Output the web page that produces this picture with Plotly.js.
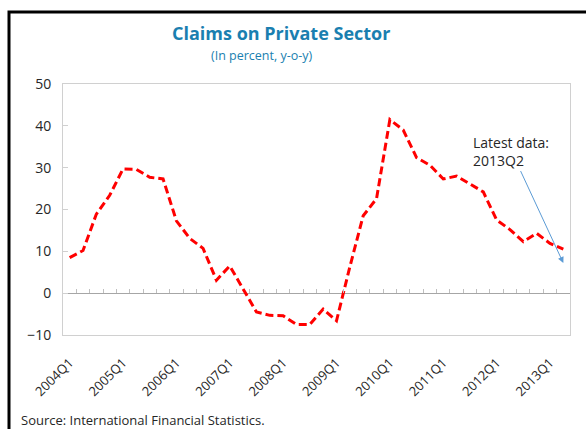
<!DOCTYPE html>
<html>
<head>
<meta charset="utf-8">
<script src="https://cdn.plot.ly/plotly-3.0.1.min.js"></script>
<style>
    body { margin: 0; background: #fff; overflow: hidden; }
    #plotDiv { width: 586px; height: 429px; }
</style>
</head>
<body>
<div id="plotDiv"></div>
<script>
// quarters 2004Q1 .. 2013Q2
const quarters = [];
for (let yr = 2004; yr <= 2013; yr++) {
    for (let q = 1; q <= 4; q++) {
        if (yr === 2013 && q > 2) break;
        quarters.push(yr + 'Q' + q);
    }
}
// claims on private sector, percent y-o-y
const claimsGrowth = [
    8.5, 10.2, 18.9, 23.4, 29.7, 29.6, 27.7, 27.3,
    17.3, 13.1, 10.7, 3.1, 6.5, 1.1, -4.5, -5.3,
    -5.4, -7.5, -7.5, -3.8, -6.6, 6.3, 18.5, 22.6,
    41.5, 39.0, 32.4, 30.6, 27.3, 28.0, 26.2, 24.2,
    17.5, 15.2, 12.3, 14.3, 11.9, 10.5
];
const yearLabels = ['2004Q1', '2005Q1', '2006Q1', '2007Q1', '2008Q1',
    '2009Q1', '2010Q1', '2011Q1', '2012Q1', '2013Q1'];
const latestLabel = '2013Q2';
const arrowValue = 7.2;

const titleColor = '#1a7fb0';
const textColor = '#262626';
const font = '"Open Sans", "DejaVu Sans", sans-serif';

// pixel -> paper helpers (plot area 63..570 x 84..335)
const px = (x) => (x - 63) / 507;
const py = (y) => (335 - y) / 251;

let data = [
    {
        x: quarters,
        y: claimsGrowth,
        type: 'scatter',
        mode: 'lines',
        line: { color: '#ff0000', width: 3, dash: '8px,4px' },
        hoverinfo: 'x+y'
    },
    // invisible copy so the tick axis on the zero line gets drawn
    {
        x: quarters.map((q, i) => i),
        y: claimsGrowth,
        xaxis: 'x2',
        type: 'scatter',
        mode: 'lines',
        line: { color: 'rgba(0,0,0,0)', width: 0 },
        hoverinfo: 'skip'
    }
];

let layout = {
    width: 586,
    height: 429,
    margin: { l: 63, r: 16, t: 84, b: 94 },
    paper_bgcolor: '#fff',
    plot_bgcolor: '#fff',
    showlegend: false,
    font: { family: font, color: textColor, size: 13 },
    xaxis: {
        type: 'category',
        categoryorder: 'array',
        categoryarray: quarters,
        range: [-0.5, quarters.length - 0.5],
        tickmode: 'array',
        tickvals: yearLabels,
        ticktext: yearLabels,
        tickangle: -45,
        ticks: '',
        tickfont: { size: 13, color: textColor },
        ticklabelstandoff: 14,
        showline: true,
        linecolor: '#d0d0d0',
        linewidth: 1,
        mirror: true,
        showgrid: false,
        zeroline: false,
        fixedrange: true
    },
    // tick marks sitting on the zero line, between quarters
    xaxis2: {
        overlaying: 'x',
        anchor: 'free',
        position: 1 / 6,
        range: [-0.5, quarters.length - 0.5],
        tick0: 0.5,
        dtick: 1,
        ticks: 'inside',
        ticklen: 4,
        tickwidth: 1,
        tickcolor: '#bfbfbf',
        showticklabels: false,
        showline: false,
        showgrid: false,
        zeroline: false,
        fixedrange: true
    },
    yaxis: {
        range: [-10, 50],
        dtick: 10,
        ticks: 'inside',
        ticklen: 5,
        tickcolor: '#d0d0d0',
        tickfont: { size: 14, color: textColor },
        ticklabelstandoff: 8,
        showline: true,
        linecolor: '#d0d0d0',
        linewidth: 1,
        mirror: true,
        showgrid: false,
        zeroline: true,
        zerolinecolor: '#a6a6a6',
        zerolinewidth: 1,
        fixedrange: true
    },
    annotations: [
        {
            xref: 'paper', yref: 'paper',
            x: px(281), y: py(33),
            xanchor: 'center', yanchor: 'middle',
            text: '<b>Claims on Private Sector</b>',
            showarrow: false,
            font: { size: 18, color: titleColor }
        },
        {
            xref: 'paper', yref: 'paper',
            x: px(262), y: py(55),
            xanchor: 'center', yanchor: 'middle',
            text: '(In percent, y-o-y)',
            showarrow: false,
            font: { size: 12.5, color: titleColor }
        },
        {
            x: latestLabel,
            y: arrowValue,
            xref: 'x', yref: 'y',
            text: 'Latest data:<br>' + latestLabel,
            align: 'left',
            showarrow: true,
            arrowhead: 2,
            arrowsize: 1.2,
            arrowwidth: 1,
            arrowcolor: '#5b9bd5',
            ax: -52,
            ay: -112,
            font: { size: 14, color: textColor }
        },
        {
            xref: 'paper', yref: 'paper',
            x: px(19), y: py(420),
            xanchor: 'left', yanchor: 'middle',
            text: 'Source: International Financial Statistics.',
            showarrow: false,
            font: { size: 13, color: textColor }
        }
    ],
    shapes: [{
        type: 'rect',
        xref: 'paper', yref: 'paper',
        x0: px(9), x1: px(620),
        y0: py(460), y1: py(12),
        line: { color: '#000', width: 3 },
        fillcolor: 'rgba(0,0,0,0)',
        layer: 'above'
    }]
};

let config = { staticPlot: true };

Plotly.newPlot('plotDiv', data, layout, config);
</script>
</body>
</html>
